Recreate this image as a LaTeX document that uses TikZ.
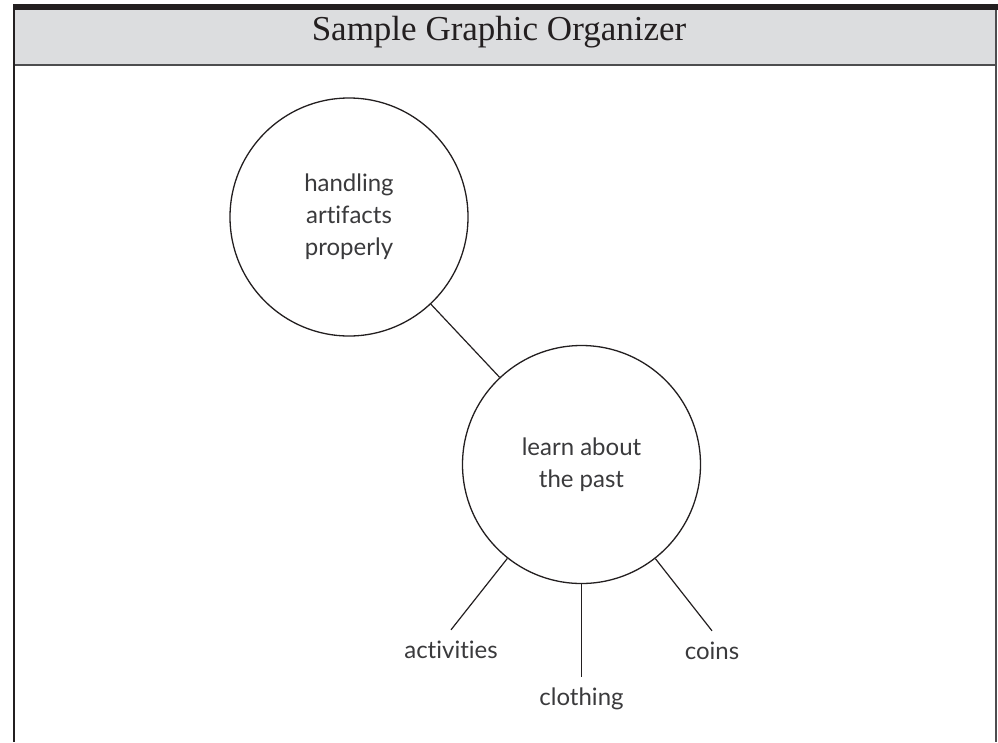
\documentclass[tikz,border=0pt]{standalone}
\usepackage{fontspec}
\setmainfont{Liberation Serif}
\newfontfamily\handfont[Ligatures=NoCommon]{Lato}
\usetikzlibrary{positioning}
\definecolor{OrgInk}{HTML}{231F20}
\definecolor{OrgBand}{HTML}{DCDDDF}
\definecolor{OrgRule}{HTML}{4D4D4F}
\definecolor{OrgText}{HTML}{3A3A3C}

\begin{document}
\begin{tikzpicture}[x=1pt,y=-1pt,
    topic/.style={circle, draw=OrgInk, line width=1.3pt, minimum size=238pt, inner sep=0pt, align=center, text=OrgText, font=\handfont\fontsize{24}{32}\selectfont},
    leaf/.style={inner sep=0pt, text height=28pt, text depth=6pt, text=OrgText, font=\handfont\fontsize{24}{28}\selectfont},
    link/.style={draw=OrgInk, line width=1.2pt}]
    \useasboundingbox (0,0) rectangle (998,742);

    % frame and title band
    \fill[OrgInk] (13,4) rectangle (998,9.5);
    \fill[OrgBand] (13,9.5) rectangle (996,64.5);
    \draw[OrgRule, line width=2pt] (13,64.5) -- (996,64.5);
    \draw[OrgInk, line width=2pt] (13.5,9.5) -- (13.5,742);
    \draw[OrgRule, line width=1.5pt] (996,9.5) -- (996,742);
    \node[anchor=base, text=OrgInk, font=\fontsize{35}{35}\selectfont] (title) at (499,40) {Sample Graphic Organizer};

    % topics
    \node[topic] (handling) at (349,217) {handling\\artifacts\\properly};
    \node[topic] (past) at (581.5,464.5) {learn about\\the past};

    % details
    \node[leaf, anchor=base] (activities) at (451,658) {activities};
    \node[leaf, anchor=base] (clothing) at (581.5,705) {clothing};
    \node[leaf, anchor=base] (coins) at (712,659) {coins};

    \draw[link] (handling) -- (past);
    \draw[link] (past) -- (activities.north);
    \draw[link] (past) -- (clothing.north);
    \draw[link] (past) -- (coins.north);
\end{tikzpicture}
\end{document}
